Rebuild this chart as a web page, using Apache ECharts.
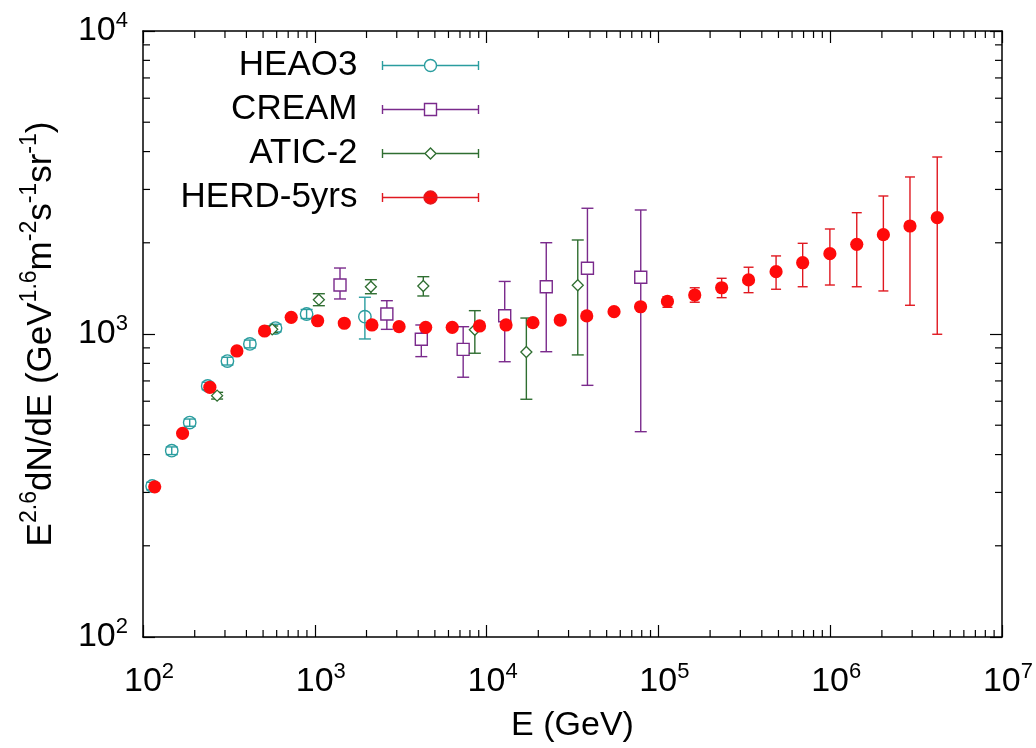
<!DOCTYPE html>
<html><head><meta charset="utf-8">
<script src="https://cdn.jsdelivr.net/npm/echarts@6/dist/echarts.min.js"></script>
<style>html,body{margin:0;padding:0;background:#fff}#c{width:1036px;height:748px}</style>
</head><body><div id="c"></div>
<script>
// ---------------- data ----------------
const seriesNames = ['HEAO3', 'CREAM', 'ATIC-2', 'HERD-5yrs'];

// HEAO3: energy (GeV), flux, error low, error high
const heaoE  = [113, 147, 187, 238, 310, 419, 591, 896, 1957];
const heaoF  = [315, 412, 510, 674, 814, 927, 1046, 1164, 1141];
const heaoLo = [306, 400, 496, 655, 790, 900, 1016, 1125, 963];
const heaoHi = [324, 424, 524, 693, 838, 955, 1077, 1205, 1322];

// CREAM
const creamE  = [1402, 2627, 4169, 7306, 12750, 22250, 38640, 78950];
const creamF  = [1451, 1164, 961, 890, 1149, 1432, 1648, 1539];
const creamLo = [1305, 1036, 842, 720, 810, 874, 677, 476];
const creamHi = [1651, 1288, 1071, 1057, 1491, 2001, 2600, 2566];

// ATIC-2
const aticE  = [270, 565, 1056, 2121, 4282, 8543, 17040, 33940];
const aticF  = [626, 1036, 1298, 1432, 1440, 1033, 872, 1448];
const aticLo = [610, 1010, 1240, 1358, 1335, 864, 609, 853];
const aticHi = [642, 1063, 1358, 1511, 1546, 1194, 1129, 2043];

// HERD-5yrs (null = error bar hidden behind the marker)
const herdE  = [117, 170, 245, 352, 510, 729, 1039, 1485, 2150, 3095, 4420, 6310, 9100, 12980, 18610, 26840, 38280, 55190, 78760, 112900, 162800, 233500, 334900, 484200, 691700, 996000, 1428000, 2040000, 2914000, 4200000];
const herdF  = [313, 470, 667, 879, 1023, 1135, 1106, 1085, 1071, 1057, 1052, 1052, 1063, 1071, 1090, 1112, 1147, 1185, 1230, 1281, 1345, 1421, 1508, 1606, 1719, 1841, 1977, 2127, 2272, 2420];
const herdLo = [null, null, null, null, null, null, null, null, null, null, null, null, null, null, null, null, null, null, null, 1225, 1273, 1318, 1369, 1405, 1432, 1451, 1432, 1387, 1244, 998];
const herdHi = [null, null, null, null, null, null, null, null, null, null, null, null, null, null, null, null, null, null, null, 1328, 1421, 1527, 1661, 1810, 1992, 2221, 2514, 2854, 3298, 3838];

// axis ranges
const xMin = 100, xMax = 1e7;
const yMin = 100, yMax = 1e4;
const xDecades = [100, 1000, 10000, 100000, 1000000];
const yDecades = [100, 1000];

// ---------------- styling ----------------
const FONT = '"Liberation Sans", Arial, Helvetica, sans-serif';
const C_TEAL = '#2a9d9f', C_PURPLE = '#7a2a8c', C_GREEN = '#2f6e31', C_RED = '#ff0a0a', C_REDBAR = '#e01820';

function zip(E, F, L, H) {
  return E.map((e, i) => [e, F[i], L[i] == null ? F[i] : L[i], H[i] == null ? F[i] : H[i]]);
}

function makeRender(kind, color, barColor, capHalf) {
  return function (params, api) {
    const e = api.value(0), f = api.value(1), lo = api.value(2), hi = api.value(3);
    const p = api.coord([e, f]);
    const children = [];
    const bs = { stroke: barColor, lineWidth: 1.4, fill: null };
    if (isFinite(lo) && isFinite(hi) && hi > lo) {
      const pl = api.coord([e, lo]), ph = api.coord([e, hi]);
      children.push({ type: 'line', shape: { x1: p[0], y1: pl[1], x2: p[0], y2: ph[1] }, style: bs });
      children.push({ type: 'line', shape: { x1: p[0] - capHalf, y1: pl[1], x2: p[0] + capHalf, y2: pl[1] }, style: bs });
      children.push({ type: 'line', shape: { x1: p[0] - capHalf, y1: ph[1], x2: p[0] + capHalf, y2: ph[1] }, style: bs });
    }
    if (kind === 'ocircle') {
      children.push({ type: 'circle', shape: { cx: p[0], cy: p[1], r: 6.2 }, style: { fill: 'none', stroke: color, lineWidth: 1.4 } });
    } else if (kind === 'square') {
      children.push({ type: 'rect', shape: { x: p[0] - 6, y: p[1] - 6, width: 12, height: 12 }, style: { fill: '#fff', stroke: color, lineWidth: 1.4 } });
    } else if (kind === 'diamond') {
      children.push({ type: 'polygon', shape: { points: [[p[0], p[1] - 5.5], [p[0] + 5.5, p[1]], [p[0], p[1] + 5.5], [p[0] - 5.5, p[1]]] }, style: { fill: '#fff', stroke: color, lineWidth: 1.3 } });
    } else {
      children.push({ type: 'circle', shape: { cx: p[0], cy: p[1], r: 6.6 }, style: { fill: color, stroke: null } });
    }
    return { type: 'group', children: children };
  };
}

// minor tick positions (axis decoration only)
const minorX = [];
xDecades.forEach(d => { for (let m = 2; m <= 9; m++) minorX.push(d * m); });
const minorY = [];
yDecades.forEach(d => { for (let m = 2; m <= 9; m++) minorY.push(d * m); });

function minorXRender(params, api) {
  const cs = params.coordSys;
  const x = api.coord([api.value(0), 1000])[0];
  const st = { stroke: '#000', lineWidth: 1.2 };
  return { type: 'group', children: [
    { type: 'line', shape: { x1: x, y1: cs.y + cs.height, x2: x, y2: cs.y + cs.height - 7 }, style: st },
    { type: 'line', shape: { x1: x, y1: cs.y, x2: x, y2: cs.y + 7 }, style: st }
  ] };
}
function minorYRender(params, api) {
  const cs = params.coordSys;
  const y = api.coord([1000, api.value(1)])[1];
  const st = { stroke: '#000', lineWidth: 1.2 };
  return { type: 'group', children: [
    { type: 'line', shape: { x1: cs.x, y1: y, x2: cs.x + 7, y2: y }, style: st },
    { type: 'line', shape: { x1: cs.x + cs.width, y1: y, x2: cs.x + cs.width - 7, y2: y }, style: st }
  ] };
}

function powLabel(v) {
  const ex = Math.round(Math.log10(v));
  return '{b|10}{s|' + ex + '}';
}
const tickRich = {
  b: { fontFamily: FONT, fontSize: 34, lineHeight: 42, color: '#000' },
  s: { fontFamily: FONT, fontSize: 22, lineHeight: 22, verticalAlign: 'top', color: '#000' }
};
const tickRichX = {
  b: { fontFamily: FONT, fontSize: 34, lineHeight: 42, color: '#000', padding: [0, 0, 0, 12] },
  s: { fontFamily: FONT, fontSize: 22, lineHeight: 22, verticalAlign: 'top', color: '#000' }
};

const axisLineStyle = { lineStyle: { color: '#000', width: 1.5 } };
const axisTickStyle = { inside: true, length: 12, lineStyle: { color: '#000', width: 1.2 } };

// legend icons: error bar with caps + marker (bbox fixed to 96x14)
const BB = 'M0,0 M96,14 ';
const CAPS = 'M0,2.5 L0,11.5 M96,2.5 L96,11.5 ';
const iconHeao = 'path://' + BB + CAPS + 'M0,7 L42,7 M54,7 L96,7 M54,7 A6,6 0 1,1 42,7 A6,6 0 1,1 54,7';
const iconCream = 'path://' + BB + CAPS + 'M0,7 L42,7 M54,7 L96,7 M42,1 L54,1 L54,13 L42,13 Z';
const iconAtic = 'path://' + BB + CAPS + 'M0,7 L42.5,7 M53.5,7 L96,7 M48,1.5 L53.5,7 L48,12.5 L42.5,7 Z';
const iconHerd = 'path://' + BB + CAPS + 'M0,7 L96,7 M54.5,7 A6.5,6.5 0 1,1 41.5,7 A6.5,6.5 0 1,1 54.5,7';

const chart = echarts.init(document.getElementById('c'), null, { renderer: 'canvas' });
chart.setOption({
  animation: false,
  backgroundColor: '#fff',
  grid: { left: 143, right: 31, top: 31, bottom: 111, containLabel: false },
  legend: {
    orient: 'vertical', right: 555, top: 48, padding: 0, align: 'right',
    itemWidth: 96, itemHeight: 14, itemGap: 9, selectedMode: false,
    textStyle: { fontFamily: FONT, fontSize: 35, color: '#000', lineHeight: 32, padding: [0, 20, 0, 0] },
    data: [
      { name: seriesNames[0], icon: iconHeao, itemStyle: { color: 'none', borderColor: C_TEAL, borderWidth: 1.4 } },
      { name: seriesNames[1], icon: iconCream, itemStyle: { color: '#fff', borderColor: C_PURPLE, borderWidth: 1.4 } },
      { name: seriesNames[2], icon: iconAtic, itemStyle: { color: '#fff', borderColor: C_GREEN, borderWidth: 1.4 } },
      { name: seriesNames[3], icon: iconHerd, itemStyle: { color: C_RED, borderColor: C_REDBAR, borderWidth: 1.4 } }
    ]
  },
  xAxis: [
    {
      type: 'log', logBase: 10, min: xMin, max: xMax, position: 'bottom',
      axisLine: axisLineStyle, axisTick: axisTickStyle, splitLine: { show: false },
      axisLabel: { formatter: powLabel, rich: tickRichX, margin: 24 },
      name: 'E (GeV)', nameLocation: 'middle', nameGap: 72,
      nameTextStyle: { fontFamily: FONT, fontSize: 34, color: '#000' }
    },
    {
      type: 'log', logBase: 10, min: xMin, max: xMax, position: 'top',
      axisLine: axisLineStyle, axisTick: axisTickStyle, splitLine: { show: false },
      axisLabel: { show: false }
    }
  ],
  yAxis: [
    {
      type: 'log', logBase: 10, min: yMin, max: yMax, position: 'left',
      axisLine: axisLineStyle, axisTick: axisTickStyle, splitLine: { show: false },
      axisLabel: { formatter: powLabel, rich: tickRich, margin: 15 },
      name: '{n|E}{s|2.6}{n|dN/dE (GeV}{s|1.6}{n|m}{s|-2}{n|s}{s|-1}{n|sr}{s|-1}{n|)}',
      nameLocation: 'middle', nameGap: 79, nameRotate: 90,
      nameTextStyle: {
        rich: {
          n: { fontFamily: FONT, fontSize: 35, lineHeight: 46, color: '#000' },
          s: { fontFamily: FONT, fontSize: 23, lineHeight: 23, verticalAlign: 'top', color: '#000' }
        }
      }
    },
    {
      type: 'log', logBase: 10, min: yMin, max: yMax, position: 'right',
      axisLine: axisLineStyle, axisTick: axisTickStyle, splitLine: { show: false },
      axisLabel: { show: false }
    }
  ],
  series: [
    { type: 'custom', name: 'minorX', silent: true, clip: false, xAxisIndex: 0, yAxisIndex: 0,
      data: minorX.map(v => [v, 1000]), renderItem: minorXRender, z: 1 },
    { type: 'custom', name: 'minorY', silent: true, clip: false, xAxisIndex: 0, yAxisIndex: 0,
      data: minorY.map(v => [1000, v]), renderItem: minorYRender, z: 1 },
    { type: 'custom', name: seriesNames[0], xAxisIndex: 0, yAxisIndex: 0, clip: false,
      data: zip(heaoE, heaoF, heaoLo, heaoHi), encode: { x: 0, y: 1 },
      renderItem: makeRender('ocircle', C_TEAL, C_TEAL, 6), z: 2 },
    { type: 'custom', name: seriesNames[1], xAxisIndex: 0, yAxisIndex: 0, clip: false,
      data: zip(creamE, creamF, creamLo, creamHi), encode: { x: 0, y: 1 },
      renderItem: makeRender('square', C_PURPLE, C_PURPLE, 6), z: 3 },
    { type: 'custom', name: seriesNames[2], xAxisIndex: 0, yAxisIndex: 0, clip: false,
      data: zip(aticE, aticF, aticLo, aticHi), encode: { x: 0, y: 1 },
      renderItem: makeRender('diamond', C_GREEN, C_GREEN, 6), z: 4 },
    { type: 'custom', name: seriesNames[3], xAxisIndex: 0, yAxisIndex: 0, clip: false,
      data: zip(herdE, herdF, herdLo, herdHi), encode: { x: 0, y: 1 },
      renderItem: makeRender('fcircle', C_RED, C_REDBAR, 5), z: 5 }
  ]
});
</script>
</body></html>
